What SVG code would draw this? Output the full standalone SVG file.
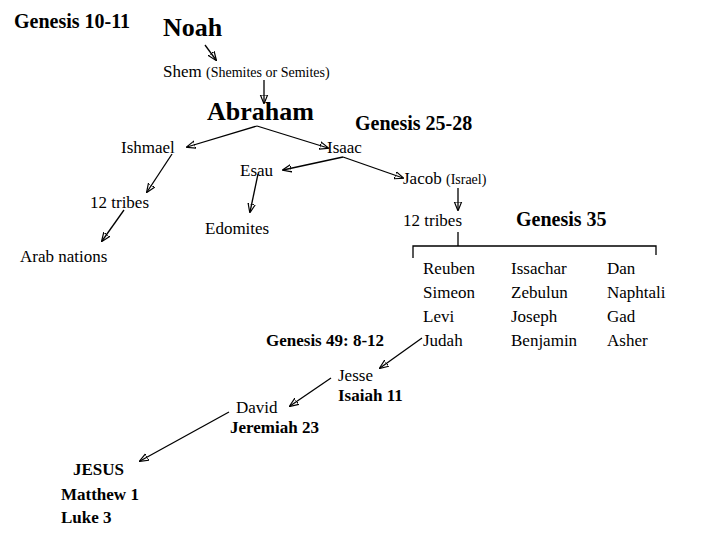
<svg xmlns="http://www.w3.org/2000/svg" width="720" height="540" viewBox="0 0 720 540" font-family="Liberation Serif, Times New Roman, DejaVu Serif, serif">
<style>
text{fill:#000;font-size:17px;font-family:"Liberation Serif","DejaVu Serif",serif}
.b{font-weight:bold}
.s{font-size:14px}
.h{font-size:20px;font-weight:bold}
.t{font-size:26px;font-weight:bold}
line,path{stroke:#000;stroke-width:1.3;fill:none}
</style>
<defs><marker id="a" viewBox="0 0 10 10" refX="9" refY="5" markerWidth="7" markerHeight="7" orient="auto"><path d="M0,1 L10,5 L0,9 Z" fill="#000" stroke="none"/></marker></defs>
<rect width="720" height="540" fill="#fff"/>
<g id="connectors">
<line x1="205" y1="45" x2="216" y2="60" marker-end="url(#a)"/>
<line x1="264" y1="80" x2="264" y2="103" marker-end="url(#a)"/>
<line x1="257" y1="126" x2="187" y2="147" marker-end="url(#a)"/>
<line x1="257" y1="126" x2="328" y2="148" marker-end="url(#a)"/>
<line x1="172" y1="154" x2="147" y2="192" marker-end="url(#a)"/>
<line x1="124" y1="210" x2="102" y2="241" marker-end="url(#a)"/>
<line x1="343" y1="157" x2="283" y2="170" marker-end="url(#a)"/>
<line x1="343" y1="157" x2="403" y2="178" marker-end="url(#a)"/>
<line x1="258" y1="174" x2="250" y2="212" marker-end="url(#a)"/>
<line x1="458" y1="188" x2="458" y2="210" marker-end="url(#a)"/>
<path d="M458,232 V246 M413,258 V246 H656 V255"/>
<line x1="422" y1="338" x2="380" y2="368" marker-end="url(#a)"/>
<line x1="331" y1="378" x2="290" y2="406" marker-end="url(#a)"/>
<line x1="229" y1="412" x2="140" y2="461" marker-end="url(#a)"/>
</g>
<g id="noah"><text x="14" y="28" class="h">Genesis 10-11</text><text x="163" y="36" class="t">Noah</text></g>
<g id="shem"><text x="163" y="77">Shem <tspan class="s">(Shemites or Semites)</tspan></text></g>
<g id="abraham"><text x="207" y="120" class="t">Abraham</text><text x="355" y="130" class="h">Genesis 25-28</text></g>
<g id="ishmael"><text x="121" y="153">Ishmael</text></g>
<g id="isaac"><text x="327" y="153">Isaac</text></g>
<g id="tribes1"><text x="90" y="208">12 tribes</text></g>
<g id="arab"><text x="20" y="262">Arab nations</text></g>
<g id="esau"><text x="240" y="176">Esau</text></g>
<g id="jacob"><text x="403" y="184">Jacob <tspan class="s">(Israel)</tspan></text></g>
<g id="edomites"><text x="205" y="234">Edomites</text></g>
<g id="tribes2"><text x="403" y="226">12 tribes</text><text x="516" y="226" class="h">Genesis 35</text></g>
<g id="list">
<text x="423" y="274">Reuben</text><text x="423" y="298">Simeon</text><text x="423" y="322">Levi</text><text x="423" y="346">Judah</text>
<text x="511" y="274">Issachar</text><text x="511" y="298">Zebulun</text><text x="511" y="322">Joseph</text><text x="511" y="346">Benjamin</text>
<text x="607" y="274">Dan</text><text x="607" y="298">Naphtali</text><text x="607" y="322">Gad</text><text x="607" y="346">Asher</text>
<text x="266" y="346" class="b">Genesis 49: 8-12</text>
</g>
<g id="jesse"><text x="338" y="381">Jesse</text><text x="338" y="401" class="b">Isaiah 11</text></g>
<g id="david"><text x="236" y="413">David</text><text x="230" y="433" class="b">Jeremiah 23</text></g>
<g id="jesus"><text x="73" y="475" class="b">JESUS</text><text x="61" y="500" class="b">Matthew 1</text><text x="61" y="523" class="b">Luke 3</text></g>
</svg>
